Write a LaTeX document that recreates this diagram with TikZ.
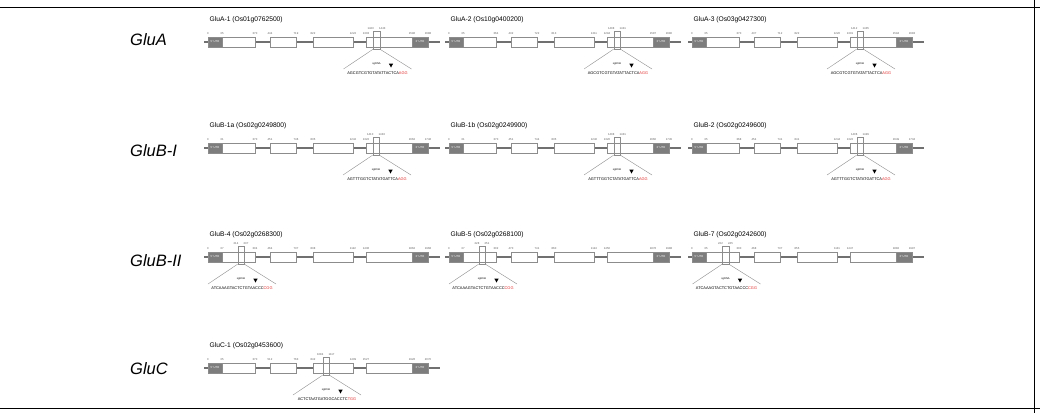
\documentclass[tikz,border=0pt]{standalone}
\usepackage{fontspec}
\setmainfont{Liberation Sans}
\usepackage{tikz}
\usetikzlibrary{positioning}

\definecolor{utrgray}{RGB}{125,125,125}
\definecolor{linegray}{RGB}{112,112,112}
\definecolor{boxgray}{RGB}{140,140,140}
\definecolor{pamred}{RGB}{225,45,45}

\tikzset{
  intron/.style={draw=linegray, line width=1.3pt},
  exon/.style={draw=boxgray, fill=white, line width=0.6pt},
  utr/.style={draw=boxgray, fill=utrgray, line width=0.6pt},
  utrtext/.style={text=white, font=\fontsize{2.8}{3}\selectfont, inner sep=0pt},
  coord/.style={text=black!65, font=\fontsize{2.8}{3}\selectfont, inner sep=0pt},
  winbox/.style={draw=boxgray, line width=0.4pt, inner sep=0pt, minimum width=6.5pt, minimum height=18pt},
  funnel/.style={draw=boxgray, line width=0.4pt},
  guide/.style={font=\fontsize{3.9}{5}\selectfont, inner sep=0pt},
  sglabel/.style={font=\fontsize{2.6}{3}\selectfont, inner sep=0pt},
  paneltitle/.style={anchor=west, font=\fontsize{6.7}{8}\selectfont, inner sep=0pt},
  family/.style={anchor=west, font=\fontsize{16.5}{20}\selectfont\itshape, inner sep=0pt},
  frame/.style={draw=black, line width=1pt}
}

\newcommand{\genepanel}[9]{%
  \begin{scope}[shift={(#2,#3)}]
    \node[paneltitle] (#1-t) at (1.5,-22) {#4};
    \draw[intron] (-4,0) -- (232,0);
    \draw[utr] (0,-5) rectangle (14,5);
    \draw[exon] (14,-5) rectangle (47,5);
    \draw[exon] (62,-5) rectangle (88,5);
    \draw[exon] (105,-5) rectangle (145,5);
    \draw[exon] (158,-5) rectangle (204,5);
    \draw[utr] (204,-5) rectangle (220,5);
    \node[utrtext] (#1-u5) at (7,0) {5' UTR};
    \node[utrtext] (#1-u3) at (212,0) {3' UTR};
    \foreach \p/\t in {#8} \node[coord] (#1-n\p) at (\p,-8.5) {\t};
    \node[winbox] (#1-w) at (#5,-2) {};
    \foreach \a/\b in {#9} {
      \node[coord, anchor=south east] (#1-wa) at ([xshift=1pt,yshift=1.5pt]#1-w.north west) {\a};
      \node[coord, anchor=south west] (#1-wb) at ([xshift=-1pt,yshift=1.5pt]#1-w.north east) {\b};
    }
    \coordinate (#1-fl) at (#5-33,27);
    \coordinate (#1-fr) at (#5+35,27);
    \draw[funnel] (#1-w.south west) -- (#1-fl);
    \draw[funnel] (#1-w.south east) -- (#1-fr);
    \node[sglabel] (#1-sg) at (#5,22) {sgRNA};
    \node[guide] (#1-seq) at (#5+1,31) {#6\textcolor{pamred}{#7}};
    \fill[black] (#5+12.3,21.5) -- (#5+16.7,21.5) -- (#5+14.5,25.5) -- cycle;
  \end{scope}}

\begin{document}
\begin{tikzpicture}[x=1pt,y=-1pt]
  \useasboundingbox (0,0) rectangle (1040,413);
  \draw[frame] (0,7) -- (1040,7);
  \draw[frame] (1034,0) -- (1034,413);
  \draw[frame] (0,408) -- (1040,408);

  \node[family] (glua) at (130,40) {GluA};
  \node[family] (glubi) at (130,151) {GluB-I};
  \node[family] (glubii) at (130,261) {GluB-II};
  \node[family] (gluc) at (130,369) {GluC};

  \genepanel{a1}{208}{42}{GluA-1 (Os01g0762500)}{168.5}{AGCGTCGTGTATATTACTCA}{AGG}{0/0,14/35,47/370,62/444,88/719,105/822,145/1222,158/1303,204/1596,220/1688}{1420/1443}
  \genepanel{a2}{449}{42}{GluA-2 (Os10g0400200)}{168}{AGCGTCGTGTATATTACTCA}{AGG}{0/0,14/35,47/364,62/432,88/722,105/813,145/1211,158/1294,204/1587,220/1680}{1408/1431}
  \genepanel{a3}{692}{42}{GluA-3 (Os03g0427300)}{168}{AGCGTCGTGTATATTACTCA}{AGG}{0/0,14/35,47/370,62/437,88/712,105/822,145/1220,158/1301,204/1594,220/1683}{1412/1435}

  \genepanel{b1}{208}{148}{GluB-1a (Os02g0249800)}{168}{AGTTTGGTCTATATGATTCA}{AGG}{0/0,14/31,47/370,62/451,88/746,105/835,145/1242,158/1322,204/1662,220/1746}{1410/1433}
  \genepanel{b2}{449}{148}{GluB-1b (Os02g0249900)}{168}{AGTTTGGTCTATATGATTCA}{AGG}{0/0,14/31,47/370,62/451,88/744,105/835,145/1240,158/1320,204/1660,220/1745}{1408/1431}
  \genepanel{b3}{692}{148}{GluB-2 (Os02g0249600)}{168}{AGTTTGGTCTATATGATTCA}{AGG}{0/0,14/35,47/368,62/454,88/741,105/841,145/1244,158/1322,204/1649,220/1734}{1406/1429}

  \genepanel{c1}{208}{257}{GluB-4 (Os02g0268300)}{33}{ATCAAAGTACTCTGTAACCC}{CGG}{0/0,14/37,47/304,62/464,88/737,105/838,145/1122,158/1436,204/1862,220/1968}{214/237}
  \genepanel{c2}{449}{257}{GluB-5 (Os02g0268100)}{33}{ATCAAAGTACTCTGTAACCC}{CGG}{0/0,14/37,47/302,62/470,88/741,105/860,145/1124,158/1450,204/1876,220/1988}{228/251}
  \genepanel{c3}{692}{257}{GluB-7 (Os02g0242600)}{33.5}{ATCAAAGTACTCTGTAACCC}{CGG}{0/0,14/35,47/300,62/468,88/737,105/855,145/1131,158/1447,204/1882,220/1997}{222/245}

  \genepanel{d1}{208}{368}{GluC-1 (Os02g0453600)}{118}{ACTCTAATGATGGCACCTC}{TGG}{0/0,14/35,47/370,62/512,88/763,105/842,145/1409,158/1527,204/1926,220/2070}{1084/1117}
\end{tikzpicture}
\end{document}
